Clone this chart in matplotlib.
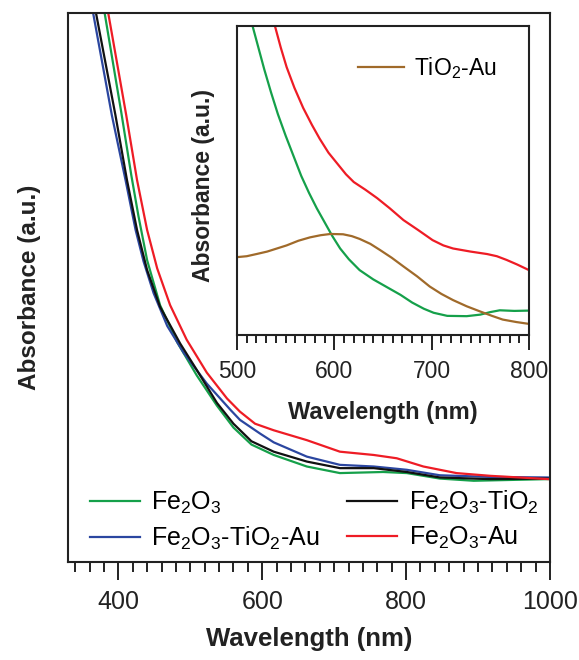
import matplotlib
matplotlib.use('Agg')
import matplotlib.pyplot as plt
import numpy as np

plt.rcParams['font.family'] = ['Liberation Sans', 'DejaVu Sans']
plt.rcParams['mathtext.default'] = 'regular'

# main panel: wavelength (nm) and absorbance (a.u.)
wl_fe2o3 = [381, 404, 418, 428, 440, 458, 482, 509, 537, 560, 585, 616, 662, 708, 768, 801, 847, 894, 997]
ab_fe2o3 = [1.0, 0.82, 0.705, 0.63, 0.55, 0.468, 0.40, 0.34, 0.285, 0.245, 0.214, 0.195, 0.174, 0.162, 0.164, 0.162, 0.152, 0.148, 0.151]

wl_fe2o3_tio2 = [369, 396, 412, 426, 440, 458, 486, 509, 537, 560, 585, 616, 662, 708, 755, 801, 847, 917, 997]
ab_fe2o3_tio2 = [1.0, 0.814, 0.696, 0.605, 0.532, 0.465, 0.398, 0.350, 0.29, 0.252, 0.220, 0.201, 0.183, 0.171, 0.171, 0.164, 0.154, 0.151, 0.152]

wl_fe2o3_tio2_au = [365, 391, 410, 424, 435, 449, 468, 491, 523, 556, 569, 597, 616, 662, 708, 755, 801, 847, 917, 997]
ab_fe2o3_tio2_au = [1.0, 0.814, 0.696, 0.605, 0.548, 0.49, 0.43, 0.381, 0.325, 0.277, 0.259, 0.234, 0.218, 0.192, 0.177, 0.174, 0.168, 0.158, 0.155, 0.154]

wl_fe2o3_au = [386, 411, 426, 440, 454, 472, 495, 523, 551, 569, 590, 616, 662, 708, 755, 787, 824, 870, 917, 998]
ab_fe2o3_au = [1.0, 0.814, 0.696, 0.605, 0.535, 0.468, 0.405, 0.345, 0.298, 0.274, 0.252, 0.240, 0.222, 0.201, 0.195, 0.189, 0.174, 0.162, 0.157, 0.151]

# inset panel
wl_in_fe2o3 = [516, 522, 528, 535, 542, 550, 558, 566, 574, 582, 590, 598, 606, 615, 626, 640, 654, 668,
               680, 692, 702, 716, 736, 750, 760, 770, 785, 800]
ab_in_fe2o3 = [1.0, 0.93, 0.86, 0.785, 0.715, 0.645, 0.58, 0.515, 0.46, 0.41, 0.365, 0.32, 0.28, 0.245, 0.21,
               0.18, 0.155, 0.13, 0.105, 0.085, 0.072, 0.062, 0.061, 0.066, 0.074, 0.080, 0.078, 0.079]

wl_in_fe2o3_au = [539, 545, 551, 559, 568, 577, 585, 594, 603, 612, 620, 632, 644, 657, 671, 686, 701, 712,
                  722, 740, 757, 767, 777, 788, 800]
ab_in_fe2o3_au = [1.0, 0.93, 0.867, 0.80, 0.735, 0.68, 0.635, 0.59, 0.555, 0.52, 0.495, 0.47, 0.443, 0.41,
                  0.372, 0.34, 0.307, 0.29, 0.28, 0.27, 0.262, 0.255, 0.243, 0.228, 0.210]

wl_in_tio2_au = [500, 510, 520, 531, 541, 551, 563, 575, 586, 596, 609, 618, 626, 637, 647, 659, 671, 685,
                 698, 710, 722, 736, 750, 762, 773, 787, 800]
ab_in_tio2_au = [0.252, 0.255, 0.262, 0.27, 0.28, 0.29, 0.305, 0.316, 0.323, 0.327, 0.326, 0.32, 0.311, 0.295,
                 0.275, 0.25, 0.222, 0.19, 0.157, 0.133, 0.113, 0.093, 0.076, 0.062, 0.05, 0.042, 0.036]

green = '#15a04a'
black = '#111111'
blue = '#2b46a0'
red = '#ee1c25'
brown = '#a06a2a'

fig = plt.figure(figsize=(5.79, 6.60), dpi=100)
ax = fig.add_axes([0.1174, 0.1485, 0.8325, 0.8315])

ax.plot(wl_fe2o3, ab_fe2o3, color=green, lw=1.6, label='Fe$_2$O$_3$')
ax.plot(wl_fe2o3_tio2_au, ab_fe2o3_tio2_au, color=blue, lw=1.6, label='Fe$_2$O$_3$-TiO$_2$-Au')
ax.plot(wl_fe2o3_tio2, ab_fe2o3_tio2, color=black, lw=1.6, label='Fe$_2$O$_3$-TiO$_2$')
ax.plot(wl_fe2o3_au, ab_fe2o3_au, color=red, lw=1.6, label='Fe$_2$O$_3$-Au')

ax.set_xlim(330, 1000)
ax.set_ylim(0, 1)
ax.set_xticks([400, 600, 800, 1000])
ax.set_xticks(np.arange(340, 1001, 20), minor=True)
ax.set_yticks([])
ax.tick_params(axis='x', which='major', direction='out', length=13, width=1.4, labelsize=18, pad=7, color='#222222', labelcolor='#222222')
ax.tick_params(axis='x', which='minor', direction='out', length=7, width=1.4, color='#222222')
for s in ax.spines.values():
    s.set_linewidth(1.5)
    s.set_color('#222222')
ax.set_xlabel('Wavelength (nm)', fontsize=18.5, fontweight='bold', color='#222222')
ax.xaxis.set_label_coords(0.5, -0.118)
ax.set_ylabel('Absorbance (a.u.)', fontsize=17.5, fontweight='bold', color='#222222')
ax.yaxis.set_label_coords(-0.055, 0.5)

ax.legend(loc='lower left', bbox_to_anchor=(0.046, 0.018), ncol=2, frameon=False,
          fontsize=18, handlelength=2.0, handletextpad=0.45, columnspacing=1.1,
          labelspacing=0.35, borderpad=0, borderaxespad=0)

# inset
ins = fig.add_axes([0.4093, 0.4924, 0.5043, 0.4682])
ins.plot(wl_in_fe2o3, ab_in_fe2o3, color=green, lw=1.6)
ins.plot(wl_in_fe2o3_au, ab_in_fe2o3_au, color=red, lw=1.6)
ins.plot(wl_in_tio2_au, ab_in_tio2_au, color=brown, lw=1.6, label='TiO$_2$-Au')
ins.set_xlim(500, 800)
ins.set_ylim(0, 1)
ins.set_xticks([500, 600, 700, 800])
ins.set_xticks(np.arange(500, 801, 10), minor=True)
ins.set_yticks([])
ins.tick_params(axis='x', which='major', direction='out', length=11, width=1.4, labelsize=16.5, pad=7, color='#222222', labelcolor='#222222')
ins.tick_params(axis='x', which='minor', direction='out', length=6, width=1.4, color='#222222')
for s in ins.spines.values():
    s.set_linewidth(1.5)
    s.set_color('#222222')
ins.set_xlabel('Wavelength (nm)', fontsize=17, fontweight='bold', color='#222222')
ins.xaxis.set_label_coords(0.5, -0.215)
ins.set_ylabel('Absorbance (a.u.)', fontsize=16.5, fontweight='bold', color='#222222')
ins.yaxis.set_label_coords(-0.075, 0.485)
ins.legend(loc='upper right', bbox_to_anchor=(0.89, 0.905), frameon=False, fontsize=16.5,
           handlelength=2.0, handletextpad=0.45, borderpad=0, borderaxespad=0)

fig.savefig('out.png', dpi=100)
